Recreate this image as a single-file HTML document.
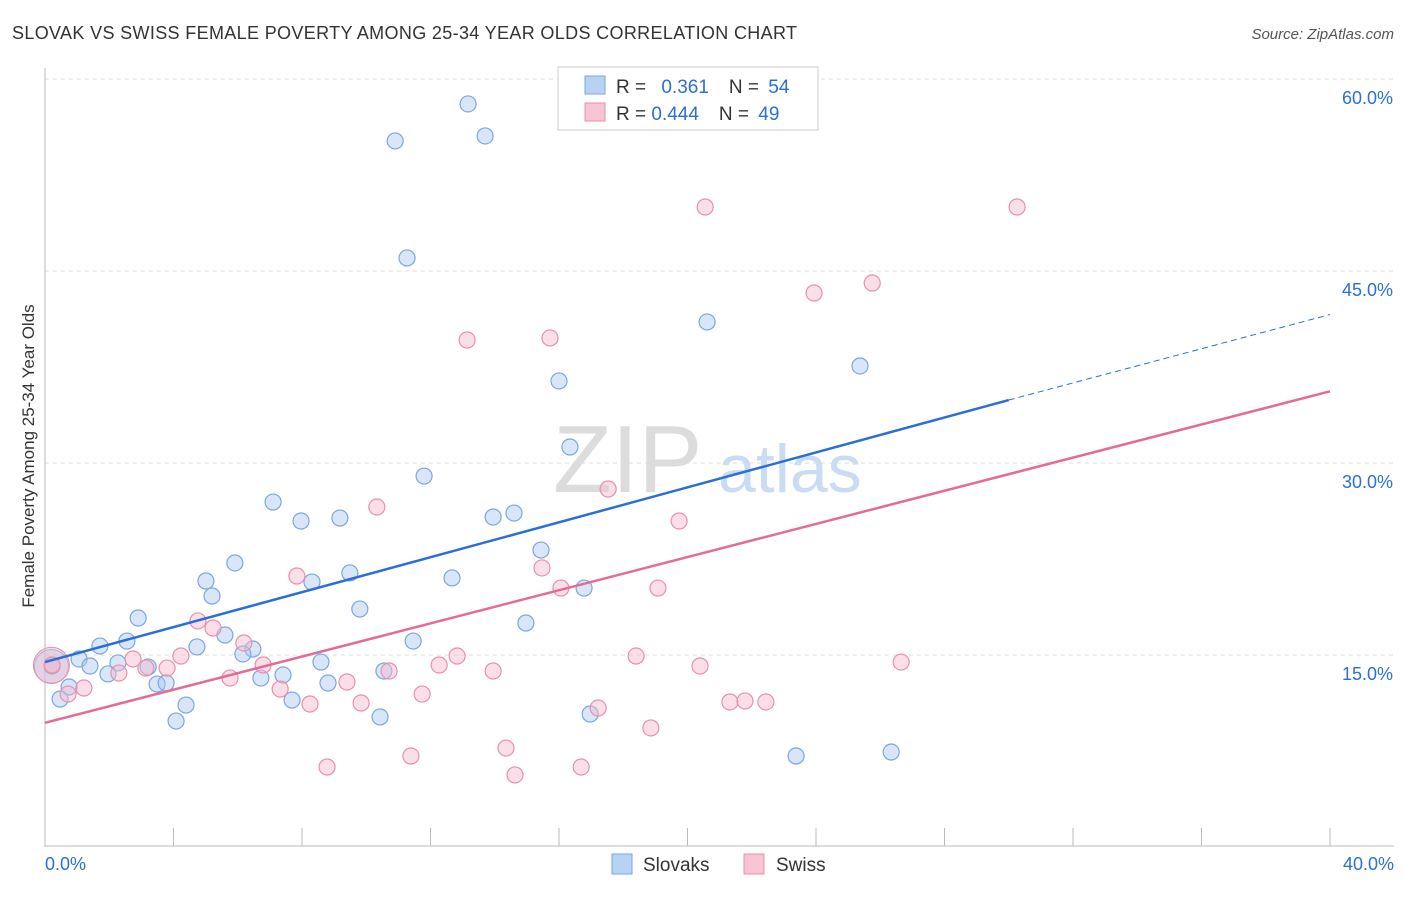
<!DOCTYPE html>
<html><head><meta charset="utf-8"><style>
body{margin:0;background:#fff;font-family:"Liberation Sans",sans-serif;}
svg text{font-family:"Liberation Sans",sans-serif;}
</style></head><body>
<svg id="chart" width="1406" height="892">
<text x="12" y="39" font-size="18" fill="#333" textLength="785">SLOVAK VS SWISS FEMALE POVERTY AMONG 25-34 YEAR OLDS CORRELATION CHART</text>
<text x="1394" y="39" font-size="15" fill="#555" font-style="italic" text-anchor="end">Source: ZipAtlas.com</text>
<text transform="translate(34,456) rotate(-90)" font-size="17" fill="#333" text-anchor="middle">Female Poverty Among 25-34 Year Olds</text>
<text x="553" y="492" font-size="96" fill="#dcdcdc" font-family="Liberation Serif">ZIP</text>
<text x="718" y="492" font-size="68" fill="#c9dcf3">atlas</text>
<g id="grid"></g><g id="axes"></g><g id="pts"></g><g id="lines"></g>
<g>
<rect x="558" y="67" width="260" height="63" fill="#fff" stroke="#ccc"/>
<rect x="585" y="76" width="20" height="18" fill="#b8d2f4" stroke="#7aa7e0"/>
<rect x="585" y="103" width="20" height="18" fill="#f8c4d4" stroke="#e890ab"/>
<text x="616" y="93" font-size="19" fill="#333">R = <tspan fill="#2b6fd6" dx="10">0.361</tspan><tspan fill="#333" dx="20">N = </tspan><tspan fill="#2b6fd6" dx="4">54</tspan></text>
<text x="616" y="120" font-size="19" fill="#333">R = <tspan fill="#2b6fd6">0.444</tspan><tspan fill="#333" dx="20">N = </tspan><tspan fill="#2b6fd6" dx="4">49</tspan></text>
</g>
<g>
<rect x="612" y="854" width="20" height="20" fill="#b8d2f4" stroke="#7aa7e0"/>
<text x="643" y="871" font-size="19" fill="#333">Slovaks</text>
<rect x="744" y="854" width="20" height="20" fill="#f8c4d4" stroke="#e890ab"/>
<text x="776" y="871" font-size="19" fill="#333">Swiss</text>
</g>
</svg>
<script>
const yTicks=[15,30,45,60];
const yTickLabels=["15.0%","30.0%","45.0%","60.0%"];
const xEndLabels=["0.0%","40.0%"];
const slovakX=[13.17,10.90,13.70,11.27,20.61,16.00,25.37,16.34,11.80,7.10,7.97,9.18,13.95,14.60,15.44,5.91,5.01,9.49,8.31,12.67,5.20,16.78,2.90,9.80,14.97,2.55,1.71,5.60,4.73,11.46,6.47,6.16,1.06,1.40,2.27,3.21,0.22,1.96,7.41,8.59,10.55,6.72,0.75,3.49,3.77,8.81,0.47,4.39,7.69,4.08,10.43,16.97,23.38,26.34];
const slovakY=[58.05,55.16,55.55,46.02,41.02,36.41,37.58,31.25,28.98,26.95,25.47,25.70,25.78,26.09,23.20,22.19,20.78,21.41,20.70,21.02,19.61,20.23,17.89,18.59,17.50,16.09,15.70,16.56,15.63,16.09,15.47,15.08,14.69,14.14,14.38,14.06,14.14,13.52,13.44,14.45,13.75,13.20,12.50,12.73,12.81,12.81,11.56,11.09,11.48,9.84,10.16,10.39,7.11,7.42];
const swissX=[20.55,30.26,25.75,23.94,13.14,15.72,17.53,10.33,19.74,7.84,15.47,16.06,19.08,4.76,5.23,6.19,4.23,2.74,12.83,18.40,26.65,0.22,6.79,3.80,12.27,20.39,3.14,10.71,13.95,2.30,5.76,9.40,1.21,0.72,7.32,11.74,8.25,9.84,21.32,21.79,22.44,17.22,18.86,11.39,14.35,8.78,16.69,14.63];
const swissY=[50.0,50.0,44.06,43.28,39.61,39.77,27.97,26.56,25.47,21.17,21.80,20.23,20.23,17.66,17.11,15.94,14.92,14.69,14.92,14.92,14.45,14.22,14.22,13.98,14.22,14.14,13.98,13.75,13.75,13.59,13.20,12.89,12.42,11.95,12.34,11.95,11.17,11.25,11.33,11.41,11.33,10.86,9.30,7.11,7.73,6.25,6.25,5.63];
const slovakTrend=[14.45,34.92,41.6];
const swissTrend=[9.7,35.6];
const NS="http://www.w3.org/2000/svg";
const X=v=>45+v/40*1285, Y=v=>847-v/15*192;
function mk(p,t,a){const e=document.createElementNS(NS,t);for(const k in a)e.setAttribute(k,a[k]);document.getElementById(p).appendChild(e);return e;}
yTicks.forEach((t,i)=>{
 const g=mk('grid','line',{x1:45,x2:1394,y1:Y(t),y2:Y(t),stroke:'#ddd','stroke-dasharray':'4 4'});
 
 
 const l=mk('grid','text',{x:1393,y:Y(t)+25,'font-size':18,fill:'#2b6fd6','text-anchor':'end'});l.textContent=yTickLabels[i];
 
 
});
const ya=mk('axes','line',{x1:45,x2:45,y1:68,y2:847,stroke:'#bbb'});


const xa=mk('axes','line',{x1:45,x2:1394,y1:846,y2:846,stroke:'#bbb'});


for(let i=1;i<=10;i++){const t=mk('axes','line',{x1:X(i*4),x2:X(i*4),y1:828,y2:846,stroke:'#bbb'});
 
 }
const xl0=mk('axes','text',{x:45,y:870,'font-size':18,fill:'#2b6fd6'});xl0.textContent=xEndLabels[0];


const xl1=mk('axes','text',{x:1394,y:870,'font-size':18,fill:'#2b6fd6','text-anchor':'end'});xl1.textContent=xEndLabels[1];


const big1=mk('pts','circle',{cx:X(0.2),cy:Y(14.1),r:17,fill:'rgba(168,200,240,0.45)',stroke:'#7aa7e0'});


slovakX.forEach((x,i)=>{const c=mk('pts','circle',{cx:X(x),cy:Y(slovakY[i]),r:8,fill:'rgba(168,200,240,0.45)',stroke:'#7aa7e0','stroke-width':1.2});
 
 });
const big2=mk('pts','circle',{cx:X(0.2),cy:Y(14.2),r:18,fill:'rgba(246,184,203,0.45)',stroke:'#e890ab'});


swissX.forEach((x,i)=>{const c=mk('pts','circle',{cx:X(x),cy:Y(swissY[i]),r:8,fill:'rgba(246,184,203,0.45)',stroke:'#e890ab','stroke-width':1.2});
 
 });
const b1=mk('lines','line',{x1:X(0),y1:Y(slovakTrend[0]),x2:X(30),y2:Y(slovakTrend[1]),stroke:'#2b6fd6','stroke-width':2.5});


const b2=mk('lines','line',{x1:X(30),y1:Y(slovakTrend[1]),x2:X(40),y2:Y(slovakTrend[2]),stroke:'#2b6fd6','stroke-width':1,'stroke-dasharray':'6 4'});


const p1=mk('lines','line',{x1:X(0),y1:Y(swissTrend[0]),x2:X(40),y2:Y(swissTrend[1]),stroke:'#e56b94','stroke-width':2.5});


</script>
</body></html>
